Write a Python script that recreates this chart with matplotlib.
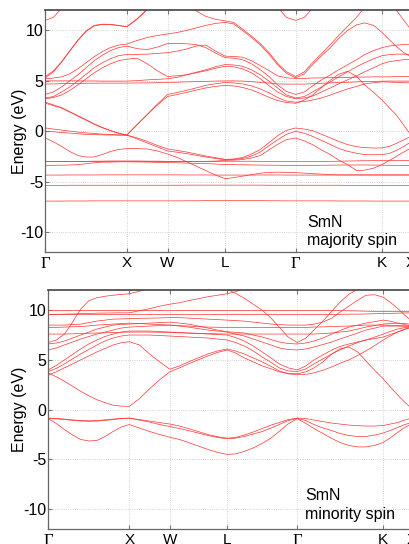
import numpy as np
import matplotlib
matplotlib.use("Agg")
import matplotlib.pyplot as plt

# k-path through the fcc zone (units of 2*pi/a): G-X | X-W | W-L | L-G | G-K | K-X
k_path = [0.0, 0.1, 0.2, 0.3, 0.4, 0.5, 0.6, 0.7, 0.8, 0.9, 1.0,
          1.125, 1.25, 1.375, 1.5,
          1.62, 1.73, 1.85, 1.97, 2.09, 2.207,
          2.31, 2.42, 2.53, 2.64, 2.75, 2.85, 2.96, 3.073,
          3.18, 3.28, 3.39, 3.5, 3.6, 3.71, 3.82, 3.92, 4.03, 4.134,
          4.22, 4.31, 4.40, 4.488]
sym_idx = [0, 10, 14, 20, 28, 38, 42]
sym_labels = ["Γ", "X", "W", "L", "Γ", "K", "X"]

# ---------------- majority spin bands (eV) ----------------
maj_f1 = [-6.92, -6.92, -6.92, -6.91, -6.91, -6.91, -6.9, -6.9, -6.9, -6.9, -6.9,
          -6.9, -6.9, -6.9, -6.9,
          -6.9, -6.89, -6.89, -6.88, -6.88, -6.88,
          -6.88, -6.88, -6.88, -6.88, -6.89, -6.89, -6.9, -6.9,
          -6.9, -6.9, -6.9, -6.9, -6.91, -6.91, -6.91, -6.91, -6.92, -6.92,
          -6.92, -6.92, -6.92, -6.92]
maj_f2 = [-5.36, -5.36, -5.36, -5.35, -5.35, -5.35, -5.35, -5.35, -5.35, -5.35, -5.35,
          -5.35, -5.35, -5.35, -5.35,
          -5.35, -5.34, -5.34, -5.34, -5.34, -5.34,
          -5.34, -5.34, -5.34, -5.34, -5.35, -5.35, -5.35, -5.35,
          -5.35, -5.35, -5.35, -5.35, -5.35, -5.36, -5.36, -5.36, -5.36, -5.36,
          -5.36, -5.36, -5.36, -5.36]
maj_f3 = [-4.34, -4.34, -4.34, -4.33, -4.33, -4.33, -4.33, -4.32, -4.32, -4.32, -4.32,
          -4.32, -4.32, -4.32, -4.32,
          -4.32, -4.33, -4.33, -4.33, -4.34, -4.34,
          -4.34, -4.34, -4.34, -4.33, -4.33, -4.33, -4.34, -4.34,
          -4.34, -4.34, -4.34, -4.34, -4.33, -4.33, -4.33, -4.33, -4.33, -4.33,
          -4.33, -4.33, -4.33, -4.33]
maj_f4 = [-3.38, -3.37, -3.36, -3.34, -3.3, -3.22, -3.12, -3.06, -3.05, -3.03, -3.02,
          -3.04, -3.05, -3.08, -3.1,
          -3.12, -3.15, -3.18, -3.2, -3.25, -3.3,
          -3.31, -3.32, -3.34, -3.35, -3.36, -3.37, -3.38, -3.38,
          -3.38, -3.38, -3.37, -3.36, -3.35, -3.34, -3.34, -3.34, -3.35, -3.36,
          -3.37, -3.38, -3.38, -3.38]
maj_f5 = [-3.0, -3.0, -3.0, -2.99, -2.98, -2.98, -2.97, -2.97, -2.96, -2.96, -2.96,
          -2.96, -2.97, -2.97, -2.98,
          -2.98, -2.98, -2.98, -2.98, -2.98, -2.97,
          -2.97, -2.97, -2.97, -2.98, -2.98, -2.99, -3.0, -3.0,
          -3.0, -3.0, -2.99, -2.98, -2.97, -2.95, -2.93, -2.92, -2.91, -2.9,
          -2.9, -2.9, -2.9, -2.9]
maj_pA = [0.33, 0.22, 0.12, 0.02, -0.08, -0.16, -0.22, -0.28, -0.32, -0.36, -0.38,
          -0.65, -1.0, -1.4, -1.75,
          -1.9, -2.05, -2.25, -2.45, -2.62, -2.78,
          -2.75, -2.6, -2.25, -1.8, -1.1, -0.45, 0.1, 0.33,
          0.22, 0.06, -0.3, -0.66, -1.0, -1.32, -1.52, -1.62, -1.66, -1.65,
          -1.5, -1.2, -0.85, -0.5]
maj_pB = [0.0, -0.05, -0.12, -0.18, -0.25, -0.3, -0.33, -0.35, -0.37, -0.38, -0.38,
          -0.75, -1.15, -1.55, -1.95,
          -2.08, -2.2, -2.38, -2.55, -2.7, -2.82,
          -2.8, -2.7, -2.45, -2.05, -1.4, -0.85, -0.3, 0.0,
          -0.2, -0.5, -0.9, -1.32, -1.7, -1.98, -2.18, -2.31, -2.33, -2.31,
          -2.2, -1.9, -1.5, -1.05]
maj_pC = [-0.66, -1.05, -1.5, -2.0, -2.4, -2.55, -2.55, -2.3, -2.0, -1.8, -1.72,
          -1.72, -1.75, -1.95, -2.25,
          -2.6, -3.0, -3.45, -3.9, -4.35, -4.7,
          -4.6, -4.45, -4.3, -4.15, -4.08, -4.05, -4.08, -4.1,
          -4.15, -4.2, -4.25, -4.3, -4.33, -4.33, -4.33, -4.33, -4.33, -4.33,
          -4.33, -4.33, -4.33, -4.33]
maj_pD = [-3.0, -3.0, -3.0, -2.99, -2.98, -2.98, -2.97, -2.97, -2.96, -2.96, -2.96,
          -2.96, -2.97, -2.97, -2.98,
          -2.98, -2.98, -2.98, -2.98, -2.95, -2.88,
          -2.86, -2.8, -2.65, -2.4, -1.82, -1.3, -0.83, -0.66,
          -0.95, -1.32, -1.85, -2.31, -2.85, -3.3, -3.9, -3.85, -3.65, -3.3,
          -2.9, -2.48, -2.05, -1.65]
maj_c1 = [2.78, 2.55, 2.3, 1.9, 1.5, 1.1, 0.7, 0.35, 0.05, -0.2, -0.38,
          0.65, 1.65, 2.6, 3.45,
          3.65, 3.85, 4.08, 4.3, 4.45, 4.55,
          4.5, 4.35, 4.1, 3.75, 3.35, 3.05, 2.85, 2.78,
          3.1, 3.58, 4.35, 5.07, 5.65, 5.95, 5.45, 4.6, 3.85, 3.1,
          2.35, 1.6, 0.6, -0.38]
maj_c2 = [2.88, 2.62, 2.35, 1.95, 1.55, 1.15, 0.74, 0.38, 0.07, -0.18, -0.38,
          0.65, 1.65, 2.7, 3.65,
          3.85, 4.05, 4.3, 4.55, 4.72, 4.85,
          4.8, 4.7, 4.5, 4.2, 3.8, 3.35, 3.0, 2.88,
          2.95, 3.1, 3.3, 3.6, 3.9, 4.2, 4.45, 4.7, 4.82, 4.9,
          4.88, 4.85, 4.82, 4.8]
maj_c3 = [4.68, 4.7, 4.72, 4.73, 4.75, 4.76, 4.77, 4.78, 4.78, 4.78, 4.78,
          4.79, 4.8, 4.82, 4.85,
          4.87, 4.9, 4.92, 4.95, 4.98, 5.0,
          5.0, 4.98, 4.92, 4.85, 4.78, 4.7, 4.68, 4.68,
          4.68, 4.72, 4.76, 4.8, 4.83, 4.86, 4.9, 4.93, 4.95, 4.97,
          4.98, 4.98, 4.98, 4.98]
maj_c4 = [5.0, 5.0, 5.0, 5.0, 5.0, 4.99, 4.99, 4.98, 4.98, 4.98, 4.98,
          5.02, 5.1, 5.15, 5.21,
          5.35, 5.6, 5.8, 6.0, 6.25, 6.45,
          6.4, 6.2, 5.8, 5.2, 4.5, 3.9, 3.45, 3.22,
          3.3, 3.5, 3.9, 4.3, 4.7, 5.1, 5.5, 5.9, 6.3, 6.7,
          6.9, 7.0, 7.1, 7.15]
maj_c5 = [3.22, 3.35, 3.6, 4.05, 4.6, 5.2, 5.8, 6.3, 6.7, 7.0, 7.15,
          7.25, 6.7, 6.0, 5.44,
          5.5, 5.6, 5.85, 6.1, 6.4, 6.62,
          6.58, 6.45, 6.1, 5.6, 4.95, 4.3, 3.6, 3.3,
          3.45, 3.9, 4.4, 4.9, 5.4, 5.9, 6.4, 6.8, 7.2, 7.5,
          7.6, 7.65, 7.65, 7.62]
maj_c6 = [3.3, 3.45, 3.9, 4.4, 5.0, 5.65, 6.3, 6.8, 7.2, 7.5, 7.62,
          7.63, 7.65, 7.72, 7.8,
          7.95, 8.15, 8.45, 8.55, 7.95, 7.45,
          7.42, 7.35, 7.0, 6.5, 6.0, 5.5, 5.3, 5.25,
          5.25, 5.28, 5.3, 5.32, 5.33, 5.35, 5.37, 5.38, 5.4, 5.4,
          5.4, 5.42, 5.42, 5.42]
maj_c7 = [3.66, 3.9, 4.4, 5.0, 5.6, 6.3, 7.0, 7.55, 8.0, 8.3, 8.45,
          8.2, 8.1, 8.35, 8.7,
          8.7, 8.68, 8.6, 8.3, 7.75, 7.3,
          7.25, 7.1, 6.7, 6.1, 5.4, 4.6, 3.95, 3.66,
          3.9, 4.5, 5.1, 5.6, 6.1, 6.6, 7.1, 7.6, 8.0, 8.3,
          8.45, 8.55, 8.6, 8.65]
maj_c8 = [5.22, 5.28, 5.4, 5.7, 6.2, 6.8, 7.4, 7.9, 8.3, 8.55, 8.65,
          9.0, 9.3, 9.5, 9.65,
          9.8, 10.0, 10.25, 10.5, 10.7, 10.8,
          10.65, 10.0, 9.3, 8.55, 7.6, 6.6, 5.75, 5.3,
          5.7, 6.6, 7.5, 8.3, 9.2, 10.0, 10.55, 10.75, 10.5, 9.8,
          9.1, 8.4, 7.8, 7.4]
maj_c9 = [5.44, 6.0, 6.9, 8.0, 9.05, 9.95, 10.5, 10.62, 10.6, 10.5, 10.38,
          11.15, 12.1, 12.9, 13.5,
          13.5, 12.5, 11.95, 11.4, 11.1, 10.95,
          10.8, 10.15, 9.45, 8.7, 7.75, 6.75, 5.9, 5.44,
          5.9, 6.8, 7.7, 8.6, 9.5, 10.4, 11.3, 12.3, 13.0, 13.5,
          13.5, 13.5, 13.5, 13.5]
maj_c10 = [5.3, 5.9, 6.85, 7.95, 9.0, 9.9, 10.45, 10.6, 10.58, 10.48, 10.36,
           11.1, 12.05, 12.9, 13.5,
           14.0, 14.0, 14.0, 14.0, 14.0, 14.0,
           14.0, 14.0, 14.0, 14.0, 14.0, 14.0, 14.0, 14.0,
           14.0, 14.0, 14.0, 14.0, 14.0, 14.0, 14.0, 14.0, 14.0, 14.0,
           13.0, 12.0, 11.0, 10.1]
maj_c11 = [11.0, 11.3, 12.2, 13.0, 13.5, 14.0, 14.0, 14.0, 14.0, 14.0, 14.0,
           14.0, 14.0, 14.0, 14.0,
           14.0, 14.0, 14.0, 14.0, 14.0, 14.0,
           14.0, 14.0, 14.0, 14.0, 13.2, 12.3, 11.3, 11.0,
           11.3, 12.2, 13.0, 13.5, 14.0, 14.0, 14.0, 14.0, 14.0, 14.0,
           14.0, 14.0, 14.0, 14.0]

# ---------------- minority spin bands (eV) ----------------
min_p1 = [-0.85, -0.88, -0.95, -1.03, -1.1, -1.12, -1.1, -1.03, -0.95, -0.88, -0.85,
          -1.0, -1.15, -1.3, -1.45,
          -1.65, -1.9, -2.2, -2.5, -2.72, -2.87,
          -2.8, -2.55, -2.25, -1.9, -1.55, -1.3, -1.0, -0.85,
          -0.9, -1.05, -1.2, -1.35, -1.45, -1.55, -1.62, -1.65, -1.65, -1.6,
          -1.45, -1.3, -1.05, -0.85]
min_p2 = [-0.88, -0.92, -1.0, -1.08, -1.15, -1.17, -1.15, -1.08, -1.0, -0.9, -0.85,
          -1.05, -1.25, -1.5, -1.7,
          -1.9, -2.1, -2.35, -2.6, -2.8, -2.93,
          -2.87, -2.7, -2.45, -2.2, -1.85, -1.5, -1.1, -0.88,
          -1.1, -1.5, -1.85, -2.1, -2.4, -2.6, -2.7, -2.7, -2.55, -2.35,
          -2.1, -1.8, -1.5, -1.3]
min_p3 = [-0.9, -1.4, -2.0, -2.55, -3.0, -3.15, -3.1, -2.7, -2.2, -1.75, -1.5,
          -1.85, -2.2, -2.5, -2.77,
          -3.0, -3.3, -3.65, -4.0, -4.3, -4.5,
          -4.45, -4.2, -3.85, -3.4, -2.85, -2.2, -1.45, -0.9,
          -1.4, -1.9, -2.4, -2.9, -3.3, -3.6, -3.75, -3.75, -3.6, -3.3,
          -2.85, -2.3, -1.8, -1.4]
min_c1 = [3.67, 3.3, 2.85, 2.35, 1.85, 1.4, 1.0, 0.7, 0.45, 0.35, 0.33,
          1.1, 2.1, 3.0, 3.8,
          4.2, 4.6, 5.0, 5.4, 5.75, 6.0,
          5.7, 5.2, 4.8, 4.4, 4.1, 3.8, 3.65, 3.6,
          3.8, 4.2, 4.8, 5.6, 6.1, 6.3, 5.8, 4.9, 3.95, 3.1,
          2.3, 1.5, 0.75, 0.1]
min_c2 = [3.5, 3.8, 4.2, 4.6, 5.0, 5.4, 5.8, 6.15, 6.5, 6.72, 6.83,
          6.5, 5.6, 4.8, 4.06,
          4.4, 4.8, 5.2, 5.6, 5.9, 6.1,
          5.9, 5.6, 5.2, 4.8, 4.35, 3.9, 3.6, 3.5,
          3.55, 3.7, 3.95, 4.3, 4.65, 5.0, 5.45, 5.9, 6.45, 7.0,
          7.4, 7.8, 8.1, 8.3]
min_c3 = [3.83, 4.15, 4.6, 5.1, 5.6, 6.05, 6.5, 6.9, 7.2, 7.4, 7.5,
          7.5, 7.5, 7.45, 7.4,
          7.35, 7.3, 7.25, 7.2, 7.1, 7.0,
          6.75, 6.4, 5.9, 5.3, 4.75, 4.2, 3.9, 3.83,
          4.1, 4.6, 5.1, 5.6, 6.0, 6.4, 6.75, 7.0, 7.3, 7.6,
          7.85, 8.1, 8.25, 8.3]
min_c4 = [4.0, 4.45, 5.0, 5.55, 6.1, 6.6, 7.0, 7.35, 7.6, 7.8, 7.9,
          7.9, 7.9, 7.85, 7.8,
          7.75, 7.7, 7.65, 7.6, 7.55, 7.5,
          7.25, 6.9, 6.4, 5.8, 5.2, 4.6, 4.2, 4.0,
          4.4, 5.0, 5.5, 6.0, 6.35, 6.6, 6.8, 7.0, 7.15, 7.3,
          7.55, 7.8, 8.05, 8.3]
min_c5 = [6.0, 6.2, 6.5, 6.8, 7.1, 7.35, 7.6, 7.8, 8.0, 8.2, 8.3,
          8.35, 8.4, 8.45, 8.5,
          8.4, 8.3, 8.15, 8.0, 7.9, 7.8,
          7.6, 7.4, 7.1, 6.8, 6.5, 6.2, 6.05, 6.0,
          6.1, 6.3, 6.55, 6.8, 7.1, 7.4, 7.7, 8.0, 8.2, 8.4,
          8.4, 8.4, 8.38, 8.35]
min_c6 = [6.6, 6.7, 6.9, 7.2, 7.5, 7.8, 8.1, 8.3, 8.5, 8.57, 8.6,
          8.65, 8.7, 8.75, 8.8,
          8.7, 8.6, 8.4, 8.2, 8.0, 7.83,
          7.78, 7.7, 7.5, 7.3, 7.05, 6.8, 6.65, 6.6,
          6.7, 6.9, 7.2, 7.6, 7.95, 8.3, 8.5, 8.7, 8.85, 9.0,
          8.9, 8.7, 8.55, 8.4]
min_c7 = [6.75, 7.0, 7.6, 8.8, 10.1, 10.95, 11.25, 11.4, 11.5, 11.58, 11.65,
          11.9, 12.2, 12.6, 13.0,
          13.0, 13.0, 13.0, 13.0, 12.8, 12.1,
          11.7, 11.2, 10.6, 10.0, 9.2, 8.3, 7.3, 6.75,
          7.2, 8.0, 8.9, 9.9, 10.8, 11.6, 12.1, 12.5, 13.0, 13.0,
          13.0, 13.0, 13.0, 13.0]
min_c8 = [7.6, 7.6, 7.6, 7.62, 7.65, 7.68, 7.7, 7.72, 7.75, 7.78, 7.8,
          7.8, 7.8, 7.78, 7.75,
          7.72, 7.7, 7.68, 7.65, 7.62, 7.6,
          7.6, 7.6, 7.6, 7.6, 7.6, 7.6, 7.6, 7.6,
          7.6, 7.6, 7.65, 7.7, 7.8, 7.9, 8.1, 8.3, 8.45, 8.6,
          8.65, 8.7, 8.65, 8.57]
min_c9 = [8.25, 8.27, 8.3, 8.33, 8.35, 8.42, 8.5, 8.55, 8.6, 8.65, 8.7,
          8.65, 8.6, 8.55, 8.5,
          8.45, 8.4, 8.35, 8.3, 8.28, 8.25,
          8.25, 8.25, 8.25, 8.25, 8.25, 8.25, 8.25, 8.25,
          8.27, 8.3, 8.32, 8.35, 8.38, 8.4, 8.45, 8.5, 8.5, 8.5,
          8.48, 8.45, 8.42, 8.4]
min_c10 = [8.5, 8.5, 8.5, 8.55, 8.6, 8.75, 8.9, 9.0, 9.1, 9.12, 9.15,
           9.18, 9.2, 9.22, 9.25,
           9.25, 9.2, 9.15, 9.1, 9.05, 9.0,
           8.95, 8.9, 8.8, 8.7, 8.6, 8.55, 8.5, 8.5,
           8.5, 8.6, 8.8, 9.2, 9.8, 10.4, 11.0, 11.5, 11.55, 11.3,
           10.8, 10.2, 9.5, 8.9]
min_c11 = [9.57, 9.57, 9.57, 9.57, 9.57, 9.57, 9.57, 9.57, 9.57, 9.57, 9.57,
           9.57, 9.57, 9.57, 9.57,
           9.57, 9.57, 9.57, 9.57, 9.57, 9.57,
           9.57, 9.57, 9.57, 9.57, 9.57, 9.57, 9.57, 9.57,
           9.57, 9.57, 9.57, 9.58, 9.58, 9.6, 9.6, 9.62, 9.64, 9.66,
           9.68, 9.7, 9.72, 9.73]
min_c12 = [9.97, 9.97, 9.97, 9.97, 9.97, 9.97, 9.97, 9.97, 9.97, 9.97, 9.97,
           9.97, 9.97, 9.97, 9.97,
           9.97, 9.97, 9.97, 9.97, 9.97, 9.97,
           9.97, 9.97, 9.97, 9.97, 9.97, 9.97, 9.97, 9.97,
           9.97, 9.97, 9.97, 9.96, 9.95, 9.94, 9.92, 9.9, 9.88, 9.86,
           9.85, 9.85, 9.85, 9.85]
min_c13 = [9.57, 9.58, 9.6, 9.62, 9.65, 9.67, 9.7, 9.71, 9.72, 9.73, 9.73,
           9.95, 10.15, 10.4, 10.6,
           10.75, 10.95, 11.15, 11.35, 11.5, 11.65,
           11.85, 12.2, 12.8, 13.0, 13.0, 13.0, 13.0, 13.0,
           13.0, 13.0, 13.0, 13.0, 13.0, 13.0, 13.0, 13.0, 13.0, 13.0,
           13.0, 13.0, 13.0, 13.0]

majority = [maj_f1, maj_f2, maj_f3, maj_f4, maj_f5, maj_pA, maj_pB, maj_pC, maj_pD,
            maj_c1, maj_c2, maj_c3, maj_c4, maj_c5, maj_c6, maj_c7, maj_c8,
            maj_c9, maj_c10, maj_c11]
minority = [min_p1, min_p2, min_p3, min_c1, min_c2, min_c3, min_c4, min_c5,
            min_c6, min_c7, min_c8, min_c9, min_c10, min_c11, min_c12, min_c13]
assert all(len(b) == len(k_path) for b in majority + minority)

BAND_RED = "#ff3333"


def draw_bands(ax, bands, title, text_x, text_y, label_x):
    k = np.array(k_path)
    for band in bands:
        ax.plot(k, band, color=BAND_RED, lw=0.5, solid_joinstyle="round")
    ax.set_xlim(k[0], k[-1])
    ax.set_ylim(-12, 12)
    ax.set_xticks([k_path[i] for i in sym_idx])
    ax.set_xticklabels(sym_labels)
    ax.set_yticks([-10, -5, 0, 5, 10])
    ax.grid(True, color="#c4c4c4", linestyle=":", linewidth=0.6)
    ax.tick_params(direction="in", length=3, color="#777777", labelsize=11,
                   top=True)
    ax.tick_params(axis="x", pad=3)
    ax.tick_params(axis="y", pad=1.5, labelsize=11.5)
    for lab in ax.get_xticklabels():
        if lab.get_text() == "Γ":
            lab.set_fontfamily("Liberation Serif")
            lab.set_fontsize(12)
    for side in ax.spines.values():
        side.set_color("#666666")
        side.set_linewidth(0.9)
    ax.spines["top"].set_color("#444444")
    ax.spines["top"].set_linewidth(1.2)
    ax.set_ylabel("Energy (eV)", fontsize=11.5)
    ax.yaxis.set_label_coords(label_x, 0.5)
    ax.text(text_x, text_y[0], "SmN", transform=ax.transAxes, fontsize=11.5,
            va="center", ha="left")
    ax.text(text_x, text_y[1], title, transform=ax.transAxes, fontsize=11.5,
            va="center", ha="left")


plt.rcParams["font.family"] = ["Liberation Sans", "DejaVu Sans"]
plt.rcParams["axes.unicode_minus"] = False

fig = plt.figure(figsize=(4.09, 5.44), dpi=100)
ax_up = fig.add_axes([0.1108, 0.5362, 0.894, 0.4449])
ax_dn = fig.add_axes([0.118, 0.0276, 0.889, 0.4388])

draw_bands(ax_up, majority, "majority spin", 0.716, (0.125, 0.047), -0.05)
draw_bands(ax_dn, minority, "minority spin", 0.706, (0.142, 0.059), -0.058)

fig.savefig("out.png", dpi=100)
